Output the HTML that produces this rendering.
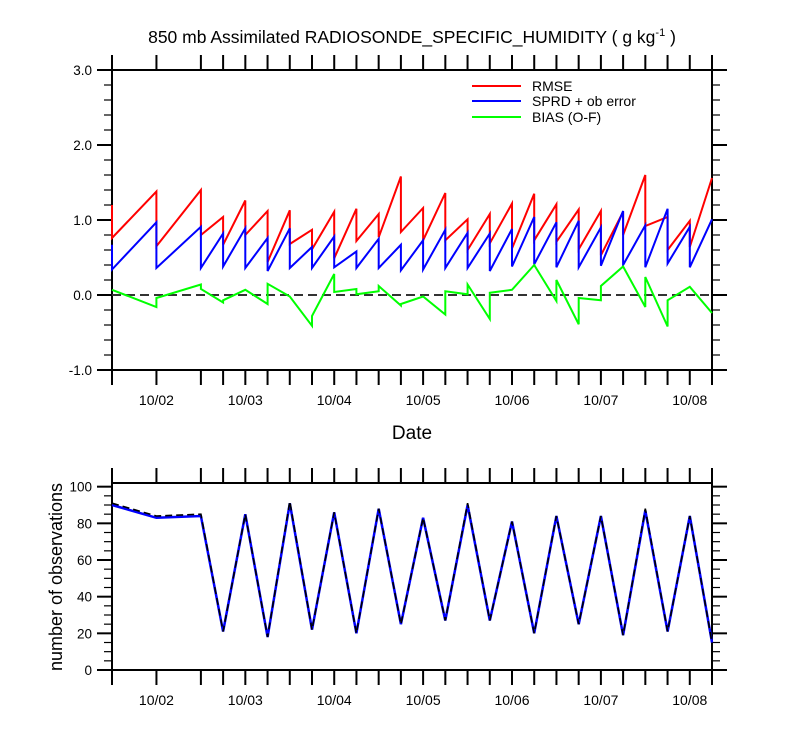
<!DOCTYPE html>
<html><head><meta charset="utf-8"><style>
html,body{margin:0;padding:0;background:#fff;}
svg{display:block;font-family:"Liberation Sans",Arial,sans-serif;}
</style></head><body>
<svg id="chart" width="800" height="750" viewBox="0 0 800 750">
<text x="412" y="43" font-size="17.5" text-anchor="middle" fill="#000">850 mb Assimilated RADIOSONDE_SPECIFIC_HUMIDITY ( g kg<tspan dy="-7" font-size="11">-1</tspan><tspan dy="7"> )</tspan></text>
<text x="412" y="439" font-size="19" text-anchor="middle">Date</text>
<text transform="translate(62,577) rotate(-90)" font-size="18" text-anchor="middle">number of observations</text>
<g>
<line x1="472" y1="86" x2="521" y2="86" stroke="#f00" stroke-width="2"/>
<text x="532" y="91" font-size="14">RMSE</text>
<line x1="472" y1="101" x2="521" y2="101" stroke="#00f" stroke-width="2"/>
<text x="532" y="106" font-size="14">SPRD + ob error</text>
<line x1="472" y1="117" x2="521" y2="117" stroke="#0f0" stroke-width="2"/>
<text x="532" y="122" font-size="14">BIAS (O-F)</text>
</g>
</svg>
<script>
// time steps (6-hour index from 10/01 12Z)
const times = [0,2,4,5,6,7,8,9,10,11,12,13,14,15,16,17,18,19,20,21,22,23,24,25,26,27];
const dateLabels = ["10/02","10/03","10/04","10/05","10/06","10/07","10/08"];
const dateIdx = [2,6,10,14,18,22,26];
const topTicks = ["3.0","2.0","1.0","0.0","-1.0"];
const topTickVals = [3,2,1,0,-1];
const botTicks = ["100","80","60","40","20","0"];
const botTickVals = [100,80,60,40,20,0];
// values arriving at each time (before jump) and leaving (after jump)
const rmseIn  = [1.20,1.38,1.40,1.04,1.26,1.12,1.13,0.87,1.11,1.15,1.08,1.58,1.16,1.36,1.01,1.08,1.22,1.35,1.21,1.14,1.12,1.11,1.60,1.04,0.99,1.56];
const rmseOut = [0.76,0.65,0.80,0.67,0.80,0.44,0.68,0.61,0.49,0.72,0.77,0.84,0.73,0.73,0.60,0.69,0.62,0.73,0.71,0.61,0.53,0.80,0.92,0.60,0.64,1.56];
const sprdIn  = [0.67,0.97,0.91,0.82,0.89,0.76,0.89,0.64,0.78,0.58,0.75,0.67,0.73,0.87,0.83,0.82,0.88,1.04,0.97,0.99,0.90,1.12,0.93,1.15,0.91,1.01];
const sprdOut = [0.34,0.36,0.36,0.38,0.36,0.32,0.36,0.36,0.37,0.36,0.36,0.33,0.34,0.36,0.36,0.32,0.38,0.41,0.37,0.37,0.39,0.40,0.37,0.42,0.37,1.01];
const biasIn  = [0.07,-0.16,0.14,-0.10,0.07,-0.12,-0.02,-0.41,0.28,0.08,0.05,-0.14,-0.02,-0.26,0.01,-0.32,0.07,0.40,-0.08,-0.39,-0.07,0.38,-0.16,-0.42,0.11,-0.24];
const biasOut = [0.07,-0.04,0.08,-0.07,0.07,0.15,-0.02,-0.28,0.04,0.01,0.12,-0.12,-0.02,0.05,0.14,0.03,0.07,0.40,0.20,-0.04,0.12,0.38,0.24,-0.07,0.11,-0.24];
const obsUsed = [90,83,84,21,85,18,91,22,86,20,88,25,83,27,90,27,81,20,84,25,84,19,87,21,84,15];
const obsTotal = [91,84,85,21,85,18,92,22,86,20,88,25,83,27,91,27,81,20,84,25,84,19,88,21,84,15];

const NS = "http://www.w3.org/2000/svg";
const svg = document.getElementById("chart");
const X0 = 112, X1 = 712, NSTEP = 27;
function xs(t){ return X0 + (X1 - X0) * t / NSTEP; }
function yTop(v){ return 295 - 75 * v; }
function yBot(v){ return 670 - 1.8333 * v; }
function mk(tag, attrs){ const e = document.createElementNS(NS, tag); for (const k in attrs) e.setAttribute(k, attrs[k]); svg.appendChild(e); return e; }

function frame(top, bot, name){
  const r = mk("rect", {x:X0, y:top, width:X1-X0, height:bot-top, fill:"none", stroke:"#000", "stroke-width":2});
  
  
  times.forEach(t => {
    const x = xs(t);
    const a = mk("line", {x1:x, y1:top-15, x2:x, y2:top, stroke:"#000", "stroke-width":2});
    
    
    const b = mk("line", {x1:x, y1:bot, x2:x, y2:bot+15, stroke:"#000", "stroke-width":2});
    
    
  });
  dateIdx.forEach((t, i) => {
    const tx = mk("text", {x:xs(t), y:bot+35, "font-size":14, "text-anchor":"middle"});
    tx.textContent = dateLabels[i];
    
    
  });
}
function yticks(vals, labels, yf, minorStep, lo, hi, name){
  for (let v = lo; v <= hi + 1e-9; v += minorStep){
    const y = yf(v);
    const major = vals.some(m => Math.abs(m - v) < 1e-6);
    const len = major ? 15 : 8;
    const l = mk("line", {x1:X0-len, y1:y, x2:X0, y2:y, stroke:"#000", "stroke-width":major?2:1.2});
    
    
    const r = mk("line", {x1:X1, y1:y, x2:X1+len, y2:y, stroke:"#000", "stroke-width":major?2:1.2});
    
    
  }
  vals.forEach((v, i) => {
    const tx = mk("text", {x:X0-20, y:yf(v)+5, "font-size":13.5, "text-anchor":"end"});
    tx.textContent = labels[i];
    
    
  });
}
function sawPath(inV, outV, yf){
  let d = "";
  times.forEach((t, i) => {
    const x = xs(t).toFixed(1);
    d += (i === 0 ? "M" : "L") + x + "," + yf(inV[i]).toFixed(1);
    d += "L" + x + "," + yf(outV[i]).toFixed(1);
  });
  return d;
}
function linePath(v, yf){
  return times.map((t, i) => (i ? "L" : "M") + xs(t).toFixed(1) + "," + yf(v[i]).toFixed(1)).join("");
}

// top panel
frame(70, 370, "top-panel");
yticks(topTickVals, topTicks, yTop, 0.2, -1, 3, "top-panel");
const zero = mk("line", {x1:X0, y1:yTop(0), x2:X1, y2:yTop(0), stroke:"#333", "stroke-width":2, "stroke-dasharray":"9,5"});


const pr = mk("path", {d:sawPath(rmseIn, rmseOut, yTop), fill:"none", stroke:"#f00", "stroke-width":2});


const ps = mk("path", {d:sawPath(sprdIn, sprdOut, yTop), fill:"none", stroke:"#00f", "stroke-width":2});


const pb = mk("path", {d:sawPath(biasIn, biasOut, yTop), fill:"none", stroke:"#0f0", "stroke-width":2});



// bottom panel
frame(483, 670, "bottom-panel");
yticks(botTickVals, botTicks, yBot, 5, 0, 100, "bottom-panel");
const po = mk("path", {d:linePath(obsUsed, yBot), fill:"none", stroke:"#00f", "stroke-width":2.5});


const pt = mk("path", {d:linePath(obsTotal, yBot), fill:"none", stroke:"#000", "stroke-width":1.6, "stroke-dasharray":"7,4"});


</script>
</body></html>
